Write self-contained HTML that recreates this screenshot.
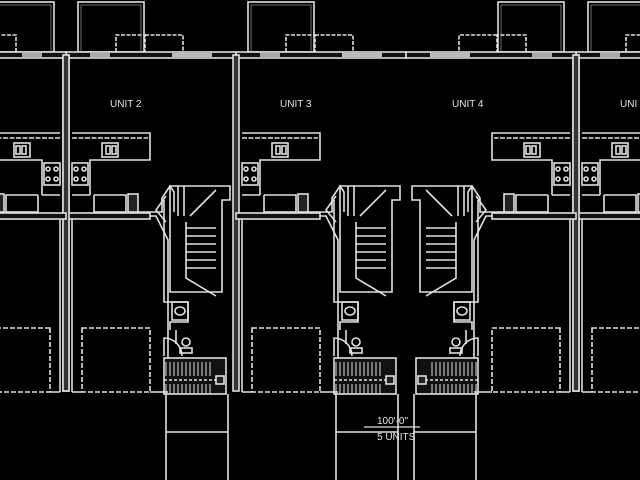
<!DOCTYPE html>
<html><head><meta charset="utf-8"><style>
html,body{margin:0;padding:0;background:#000;width:640px;height:480px;overflow:hidden}
svg{display:block}
text{font-family:"Liberation Sans",sans-serif;fill:#e6e6e6}
</style></head><body>
<svg width="640" height="480" viewBox="0 0 640 480" xmlns="http://www.w3.org/2000/svg">
<defs>
<g id="u" fill="none" stroke="#e0e0e0" stroke-width="1.6">
  <rect x="12" y="2" width="66" height="50"/>
  <rect x="15" y="5" width="60" height="47" stroke="#888" stroke-width="0.8"/>
  <path d="M50 52 V35 H79 V52" stroke-dasharray="4 1.5"/>
  <path d="M79 35 H117 V52" stroke-dasharray="4 1.5"/>
  <rect x="0" y="52" width="170" height="6" fill="#111"/>
  <rect x="24" y="53" width="20" height="4" fill="#aaa" stroke="none"/>
  <rect x="106" y="53" width="40" height="4" fill="#bbb" stroke="none"/>
  <rect x="-3" y="55" width="6" height="336" fill="#333"/>
  <path d="M6 133 H84 V160 H24 V195"/>
  <path d="M6 138 H82" stroke-dasharray="5 1.5"/>
  <rect x="36" y="143" width="16" height="14"/>
  <rect x="40" y="146" width="4" height="8"/><rect x="46" y="146" width="4" height="8"/>
  <rect x="6" y="163" width="16" height="22"/>
  <circle cx="10" cy="169" r="2"/><circle cx="18" cy="169" r="2"/><circle cx="10" cy="179" r="2"/><circle cx="18" cy="179" r="2"/>
  <path d="M6 195 H24 M28 195 V212 H60 V195 H28"/>
  <rect x="62" y="194" width="10" height="18" fill="#222"/>
  <path d="M72 212 H96 V198 L104 186 L108 192 V212"/>
  <rect x="0" y="213" width="84" height="6" fill="#111"/>
  <path d="M84 216 H90 L102 240 V392"/>
  <path d="M6 219 V392"/>
  <path d="M104 186 H164 V200 H156 V292 H104 Z"/>
  <path d="M112 186 V216 M118 186 V216"/>
  <path d="M100 196 L90 210 L100 222" />
  <path d="M124 216 L150 190"/>
  <path d="M120 228 H150 M120 236 H150 M120 244 H150 M120 252 H150 M120 260 H150 M120 268 H150"/>
  <path d="M120 222 V278 L150 296"/>
  <path d="M98 200 V302 H122 V322 H104 V330"/>
  <rect x="106" y="302" width="16" height="18"/>
  <ellipse cx="114" cy="311" rx="5" ry="4"/>
  <path d="M110 330 V344"/>
  <circle cx="120" cy="342" r="4"/><rect x="114" y="348" width="12" height="5"/>
  <path d="M98 356 V338 A18 18 0 0 1 116 356"/>
  <rect x="98" y="358" width="62" height="36" fill="#111"/>
  <path d="M100 362 V376 M104 362 V376 M108 362 V376 M112 362 V376 M116 362 V376 M120 362 V376 M124 362 V376 M128 362 V376 M132 362 V376 M136 362 V376 M140 362 V376 M144 362 V376" stroke-width="1"/>
  <path d="M100 384 V394 M104 384 V394 M108 384 V394 M112 384 V394 M116 384 V394 M120 384 V394 M124 384 V394 M128 384 V394 M132 384 V394 M136 384 V394 M140 384 V394 M144 384 V394" stroke-width="1"/>
  <path d="M98 380 H150" stroke-dasharray="3 2"/>
  <rect x="150" y="376" width="8" height="8" fill="#222"/>
  <rect x="16" y="328" width="68" height="64" stroke-dasharray="5 2"/>
  <path d="M6 392 H16 M84 392 H102"/>
  <path d="M100 394 V480 M162 394 V432 H100 M162 432 V480"/>
</g>
</defs>
<use href="#u" transform="translate(66,0)"/>
<use href="#u" transform="translate(236,0)"/>
<use href="#u" transform="translate(576,0)"/>
<use href="#u" transform="translate(812,0) scale(-1,1) translate(236,0)"/>
<use href="#u" transform="translate(132,0) scale(-1,1) translate(66,0)"/>
<g font-size="10">
<text x="110" y="107">UNIT 2</text>
<text x="280" y="107">UNIT 3</text>
<text x="452" y="107">UNIT 4</text>
<text x="620" y="107">UNI</text>
</g>
<path d="M364 427 H420" stroke="#ddd" stroke-width="1.2"/>
<text x="377" y="424" font-size="10">100'-0"</text>
<text x="377" y="440" font-size="10">5 UNITS</text>
</svg>
</body></html>
